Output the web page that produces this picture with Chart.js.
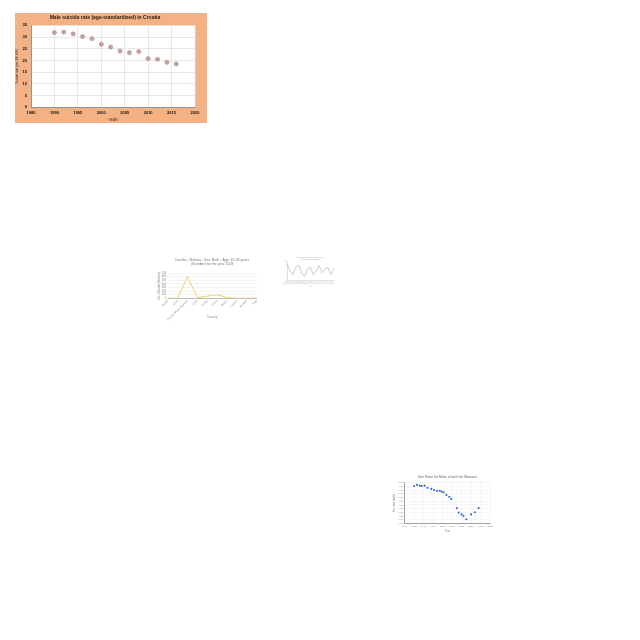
<!DOCTYPE html>
<html><head><meta charset="utf-8">
<script src="https://cdn.jsdelivr.net/npm/chart.js@4.4.1/dist/chart.umd.min.js"></script>
<style>
html,body{margin:0;padding:0;background:#fff;width:640px;height:640px;overflow:hidden}
.box{position:absolute}
canvas{display:block}
</style></head><body>
<div class="box" style="left:15px;top:13px;width:192px;height:110px;background:#F4B183"><canvas id="c1" width="192" height="110"></canvas></div>
<div class="box" style="left:155px;top:255px;width:110px;height:67px;"><canvas id="c2" width="110" height="67"></canvas></div>
<div class="box" style="left:282px;top:255px;width:58px;height:38px;"><canvas id="c3" width="58" height="38"></canvas></div>
<div class="box" style="left:386px;top:470px;width:112px;height:66px;"><canvas id="c4" width="112" height="66"></canvas></div>
<script>
// ---- Chart 1: Male suicide rate in Croatia ----
const title1 = 'Male suicide rate (age-standardized) in Croatia';
const years1 = [1990,1992,1994,1996,1998,2000,2002,2004,2006,2008,2010,2012,2014,2016];
const rates1 = [31.9,32.1,31.3,30.2,29.3,26.9,25.7,24.0,23.3,23.8,20.8,20.5,19.2,18.5];

// ---- Chart 2: Malaria deaths ----
const title2 = ['Deaths - Malaria - Sex: Both - Age: 15-49 years', '(Number) for the year 2003'];
const countries2 = ['Angola','Benin','Central African Republic','Chad','Congo','Eritrea','Gabon','Lesotho','Namibia','Togo'];
const deaths2 = [0,0,600,20,60,100,20,0,0,0];

// ---- Chart 3: small line chart ----
const title3 = ['Line chart of values over the years', 'for the selected indicator'];
const labels3 = ['2000','2001','2002','2003','2004','2005','2006','2007','2008','2009','2010','2011','2012','2013','2014','2015','2016'];
const values3 = [9,5,3,7,8,4,2,6,7,3,5,8,4,6,7,3,6];

// ---- Chart 4: Sex ratio at birth ----
const title4 = 'Sex Ratio for Male at birth for Monaco';
const years4 = [1950,1953,1956,1958,1961,1964,1968,1971,1974,1977,1979,1981,1984,1987,1989,1995,1997,2000,2002,2005,2010,2014,2018];
const ratio4 = [1.101,1.104,1.102,1.101,1.102,1.096,1.093,1.090,1.088,1.088,1.086,1.084,1.077,1.072,1.066,1.041,1.029,1.024,1.020,1.011,1.024,1.030,1.041];

Chart.defaults.font.family = "'Liberation Sans', Arial, sans-serif";
Chart.defaults.animation = false;
Chart.defaults.responsive = false;
Chart.defaults.devicePixelRatio = 1;
Chart.defaults.plugins.legend.display = false;
Chart.defaults.plugins.tooltip.enabled = false;

const whiteArea = {
  id: 'whiteArea',
  beforeDraw(chart) {
    const {ctx, chartArea: a} = chart;
    ctx.save(); ctx.fillStyle = '#ffffff';
    ctx.fillRect(a.left, a.top, a.right - a.left, a.bottom - a.top);
    ctx.restore();
  }
};

new Chart(document.getElementById('c1'), {
  type: 'scatter',
  data: { datasets: [{
    data: years1.map((y, i) => ({x: y, y: rates1[i]})),
    backgroundColor: '#C9A09E', borderColor: '#A98684', borderWidth: 0.5, pointRadius: 2.1
  }]},
  options: {
    layout: {padding: {left: 0, right: 12, top: 0, bottom: 0}},
    plugins: {
      title: {display: true, text: title1, color: '#2b2016', font: {size: 5, weight: 'bold'}, padding: {top: 2, bottom: 4.3}}
    },
    scales: {
      x: {type: 'linear', min: 1985, max: 2020,
        ticks: {stepSize: 5, color: '#111', font: {size: 4, weight: 'bold'}, padding: 1, maxRotation: 0, autoSkip: false, callback: v => String(v)},
        grid: {color: '#D9D9D9', tickLength: 2, lineWidth: 0.6},
        border: {color: '#7f7f7f', width: 0.8},
        title: {display: true, text: 'YEAR', color: '#333', font: {size: 3.5}, padding: {top: 0, bottom: 1.2}},
        afterFit: s => { s.height = 15.7; }
      },
      y: {min: 0, max: 35,
        ticks: {stepSize: 5, color: '#111', font: {size: 4, weight: 'bold'}, padding: 2, autoSkip: false},
        grid: {color: '#D9D9D9', tickLength: 2, lineWidth: 0.6},
        border: {color: '#7f7f7f', width: 0.8},
        title: {display: true, text: 'Suicide rate (per 100 000)', color: '#333', font: {size: 3}, padding: 0},
        afterFit: s => { s.width = 16; }
      }
    }
  },
  plugins: [whiteArea]
});

new Chart(document.getElementById('c2'), {
  type: 'line',
  data: { labels: countries2, datasets: [{
    data: deaths2, borderColor: '#F2CB5A', borderWidth: 0.9, pointRadius: 0, tension: 0
  }]},
  options: {
    layout: {padding: {left: 0, right: 8.3, top: 0, bottom: 0}},
    plugins: {
      title: {display: true, fullSize: false, text: title2, color: '#777', font: {size: 3.5, weight: 'normal'}, padding: {top: 3, bottom: 6.6}}
    },
    scales: {
      x: {offset: false,
        ticks: {color: '#888', font: {size: 2.6}, padding: 1, minRotation: 45, maxRotation: 45, autoSkip: false},
        grid: {display: false, drawTicks: false, tickLength: 0},
        border: {color: '#999', width: 0.6},
        title: {display: true, text: 'Country', color: '#888', font: {size: 3}, padding: {top: 0, bottom: 2.9}},
        afterFit: s => { s.height = 23.7; }
      },
      y: {min: 0, max: 700,
        ticks: {stepSize: 100, color: '#888', font: {size: 2.6}, padding: 1.5, autoSkip: false},
        grid: {color: '#E6E6E6', tickLength: 0, lineWidth: 0.5},
        border: {display: false},
        title: {display: true, text: 'No. of Deaths (Number)', color: '#888', font: {size: 2.6}, padding: {top: 2.4, bottom: 0}},
        afterFit: s => { s.width = 12.7; }
      }
    }
  }
});

new Chart(document.getElementById('c3'), {
  type: 'line',
  data: { labels: labels3, datasets: [{
    data: values3, borderColor: '#B4B4B4', borderWidth: 0.7, pointRadius: 0, tension: 0
  }]},
  options: {
    layout: {padding: {left: 0, right: 6.3, top: 0, bottom: 0}},
    plugins: {
      title: {display: true, fullSize: false, text: title3, color: '#aaa', font: {size: 1.8, weight: 'normal'}, padding: {top: 1.4, bottom: 1.0}}
    },
    scales: {
      x: {offset: false,
        ticks: {color: '#b4b4b4', font: {size: 2}, padding: 0.5, minRotation: 45, maxRotation: 45, autoSkip: false},
        grid: {display: false, drawTicks: false, tickLength: 0},
        border: {color: '#c4c4c4', width: 0.5},
        title: {display: true, text: 'Year', color: '#b4b4b4', font: {size: 1.8}, padding: {top: 0, bottom: 5.5}},
        afterFit: s => { s.height = 13; }
      },
      y: {min: 0, max: 10,
        ticks: {stepSize: 2, color: '#b4b4b4', font: {size: 2}, padding: 0.5, autoSkip: false},
        grid: {display: false, drawTicks: false, tickLength: 0},
        border: {color: '#c4c4c4', width: 0.5},
        title: {display: false},
        afterFit: s => { s.width = 5; }
      }
    }
  }
});

new Chart(document.getElementById('c4'), {
  type: 'scatter',
  data: { datasets: [{
    data: years4.map((y, i) => ({x: y, y: ratio4[i]})),
    backgroundColor: '#4472C4', borderColor: '#4472C4', borderWidth: 0, pointRadius: 1.1
  }]},
  options: {
    layout: {padding: {left: 0, right: 8, top: 0, bottom: 0}},
    plugins: {
      title: {display: true, fullSize: false, text: title4, color: '#666', font: {size: 3.5, weight: 'normal'}, padding: {top: 4.6, bottom: 3.9}}
    },
    scales: {
      x: {type: 'linear', min: 1940, max: 2030,
        ticks: {stepSize: 10, color: '#888', font: {size: 2.5}, padding: 2, maxRotation: 0, autoSkip: false, callback: v => String(v)},
        grid: {color: '#EEEEEE', tickLength: 0, lineWidth: 0.5},
        border: {color: '#8c8c8c', width: 0.8},
        title: {display: true, text: 'Year', color: '#888', font: {size: 2.6}, padding: {top: 0, bottom: 3.5}},
        afterFit: s => { s.height = 12.7; }
      },
      y: {min: 1.00, max: 1.11,
        ticks: {stepSize: 0.01, color: '#888', font: {size: 2.5}, padding: 1.5, autoSkip: false, callback: v => v.toFixed(2)},
        grid: {color: '#EEEEEE', tickLength: 0, lineWidth: 0.5},
        border: {color: '#8c8c8c', width: 0.8},
        title: {display: true, text: 'Sex ratio (male)', color: '#888', font: {size: 2.6}, padding: {top: 6.5, bottom: 0}},
        afterFit: s => { s.width = 18.7; }
      }
    }
  }
});
</script>
</body></html>
